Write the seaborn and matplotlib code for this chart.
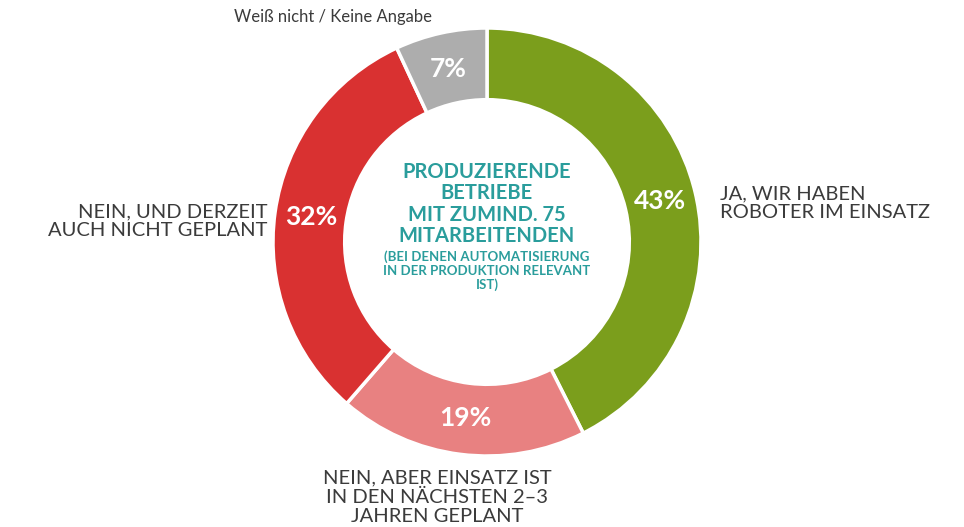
import matplotlib.pyplot as plt
import seaborn as sns
import numpy as np

# data
categories = ["Ja, wir haben\nRoboter im Einsatz",
              "Nein, aber Einsatz ist\nin den nächsten 2–3\nJahren geplant",
              "Nein, und derzeit\nauch nicht geplant",
              "Weiß nicht / Keine Angabe"]
shares = [43, 19, 32, 7]
pct_labels = ["43%", "19%", "32%", "7%"]
colors = ["#7b9e1c", "#e88181", "#d93131", "#adadad"]

center_title = "PRODUZIERENDE\nBETRIEBE\nMIT ZUMIND. 75\nMITARBEITENDEN"
center_note = "(BEI DENEN AUTOMATISIERUNG\nIN DER PRODUKTION RELEVANT\nIST)"

sns.set_theme(style="white")
plt.rcParams['font.family'] = ['Lato', 'DejaVu Sans']

W, H = 964, 527
fig = plt.figure(figsize=(W / 100, H / 100), dpi=100)
ax = fig.add_axes([0, 0, 1, 1])

cx, cy, R = 487, H - 242, 214
ax.pie(shares, colors=colors, startangle=90, counterclock=False,
       center=(cx, cy), radius=R, frame=True,
       wedgeprops=dict(width=R * 0.335, edgecolor='white', linewidth=2.5))
ax.set_xlim(0, W)
ax.set_ylim(0, H)
ax.set_aspect('equal')
ax.axis('off')

# percentage labels in the ring
total = sum(shares)
start = 90.0
for v, lab in zip(shares, pct_labels):
    mid = start - v / total * 360 / 2
    start -= v / total * 360
    r = R * 0.83
    ax.text(cx + r * np.cos(np.radians(mid)), cy + r * np.sin(np.radians(mid)), lab,
            color='white', fontsize=19, fontweight='bold', ha='center', va='center')

txt = '#3b3b3b'
ax.text(720, H - 203, categories[0].upper(), color=txt, fontsize=14.5,
        ha='left', va='center', linespacing=1.15)
ax.text(267, H - 221, categories[2].upper(), color=txt, fontsize=14.5,
        ha='right', va='center', linespacing=1.15)
ax.text(437, H - 497, categories[1].upper(), color=txt, fontsize=14.5,
        ha='center', va='center', linespacing=1.15)
ax.text(333, H - 17, categories[3], color=txt, fontsize=12,
        ha='center', va='center')

teal = '#2a9d9c'
ax.text(cx, H - 204, center_title, color=teal, fontsize=14.5, fontweight='bold',
        ha='center', va='center', linespacing=1.1)
ax.text(cx, H - 271, center_note, color=teal, fontsize=9.5, fontweight='bold',
        ha='center', va='center', linespacing=1.15)

fig.savefig('out.png', dpi=100, facecolor='white')
